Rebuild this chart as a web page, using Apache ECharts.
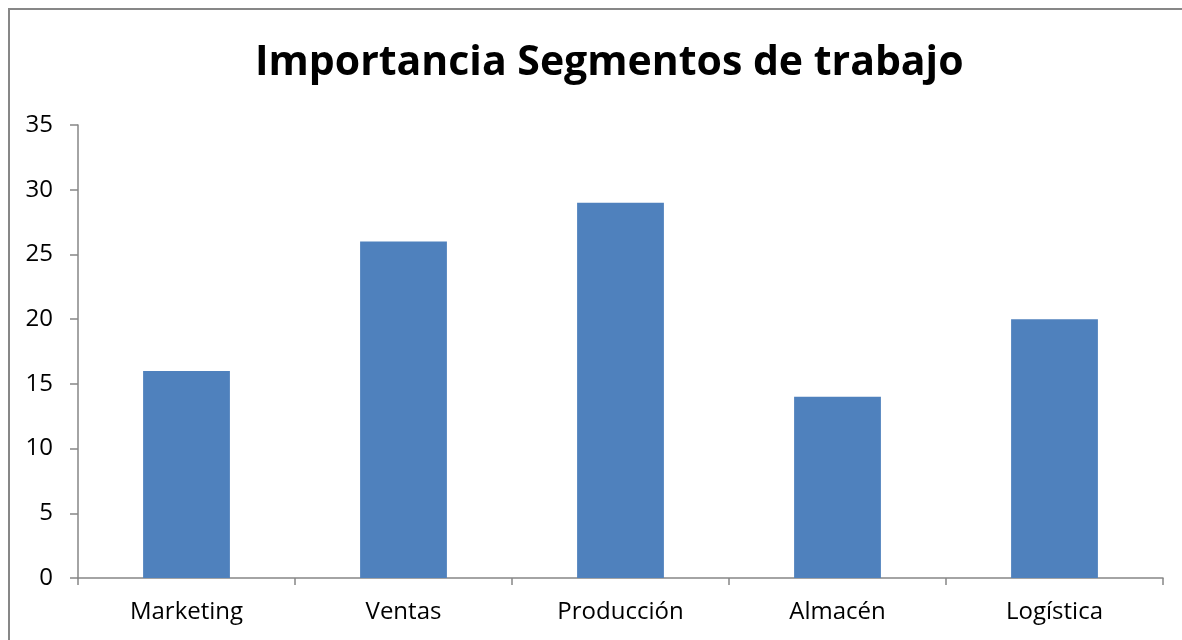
<!DOCTYPE html>
<html><head><meta charset="utf-8">
<script src="https://cdn.jsdelivr.net/npm/echarts@6/dist/echarts.min.js"></script>
<style>html,body{margin:0;padding:0;background:#fff}#c{width:1182px;height:640px}</style>
</head><body><div id="c"></div>
<script>
const categories = ['Marketing', 'Ventas', 'Producción', 'Almacén', 'Logística'];
const values = [16, 26, 29, 14, 20];
const titleText = 'Importancia Segmentos de trabajo';

const chart = echarts.init(document.getElementById('c'), null, {renderer: 'canvas'});
chart.setOption({
  animation: false,
  backgroundColor: '#fff',
  graphic: [{
    type: 'rect', left: 8, top: 8,
    shape: {width: 1300, height: 800},
    style: {fill: 'transparent', stroke: '#878787', lineWidth: 2},
    silent: true
  }],
  title: {
    text: titleText, left: 250, top: 38,
    textStyle: {fontFamily: 'Open Sans', fontWeight: 'bold', fontSize: 41, color: '#000'}
  },
  grid: {left: 78, right: 19, top: 125, bottom: 62, containLabel: false},
  xAxis: {
    type: 'category', data: categories,
    axisLine: {lineStyle: {color: '#868686', width: 1.5}},
    axisTick: {show: true, length: 7, alignWithLabel: false, lineStyle: {color: '#868686', width: 1.5}},
    axisLabel: {color: '#000', fontSize: 24, fontFamily: 'Open Sans', margin: 22}
  },
  yAxis: {
    type: 'value', min: 0, max: 35, interval: 5,
    axisLine: {show: true, lineStyle: {color: '#868686', width: 1.5}},
    axisTick: {show: true, length: 8, lineStyle: {color: '#868686', width: 1.5}},
    splitLine: {show: false},
    axisLabel: {color: '#000', fontSize: 24, fontFamily: 'Open Sans', margin: 25}
  },
  series: [{
    type: 'bar', data: values, barWidth: '40%',
    itemStyle: {color: '#4F81BD'}
  }]
});
</script></body></html>
